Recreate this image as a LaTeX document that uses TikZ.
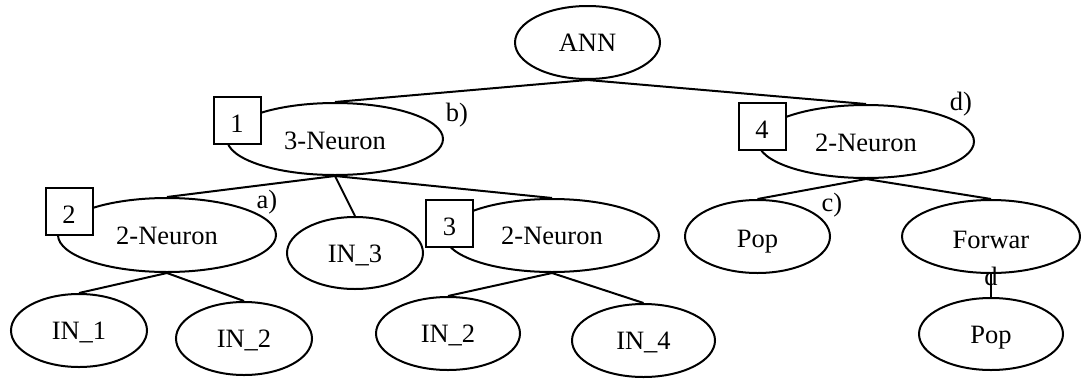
\documentclass[tikz,border=0pt]{standalone}
\usepackage{fontspec}
\setmainfont{Liberation Serif}
\usetikzlibrary{shapes.geometric}
\begin{document}
\begin{tikzpicture}[x=1pt,y=-1pt,
  every node/.style={font=\fontsize{26.5}{30}\selectfont},
  oval/.style={draw, ellipse, line width=2pt, inner sep=0pt, text height=17.5pt, text depth=0pt},
  numbox/.style={draw, fill=white, line width=2pt, minimum size=47pt, inner sep=0pt, text height=17.5pt, text depth=0pt},
  tag/.style={inner sep=0pt},
  edge/.style={line width=2pt}]
\useasboundingbox (0,0) rectangle (1081,378);
% ellipses
\node[oval, minimum width=145pt, minimum height=73pt] (ann) at (587.5,42.5) {ANN};
\node[oval, minimum width=216pt, minimum height=72pt] (n3) at (335,139) {\raisebox{-1.5pt}{3-Neuron}};
\node[oval, minimum width=216pt, minimum height=73pt] (n2r) at (866,141.5) {\raisebox{-1pt}{2-Neuron}};
\node[oval, minimum width=218pt, minimum height=74pt] (n2l) at (167,235) {\raisebox{-1pt}{2-Neuron}};
\node[oval, minimum width=136pt, minimum height=72pt] (in3) at (355,253) {\raisebox{-1pt}{IN\_3}};
\node[oval, minimum width=214pt, minimum height=73pt] (n2m) at (552,235.5) {2-Neuron};
\node[oval, minimum width=145pt, minimum height=73pt] (pop1) at (757.5,236.5) {\raisebox{-2pt}{Pop}};
\node[oval, minimum width=178pt, minimum height=73pt] (fwd) at (991,236.5) {\raisebox{-3pt}{Forwar}};
\node[oval, minimum width=144pt, minimum height=72pt] (pop2) at (991,334) {\raisebox{-1pt}{Pop}};
\node[oval, minimum width=136pt, minimum height=73pt] (in1) at (79,330.5) {IN\_1};
\node[oval, minimum width=136pt, minimum height=73pt] (in2a) at (244,338.5) {IN\_2};
\node[oval, minimum width=144pt, minimum height=73pt] (in2b) at (448,333.5) {IN\_2};
\node[oval, minimum width=143pt, minimum height=73pt] (in4) at (643.5,340.5) {IN\_4};
% edges
\draw[edge] (ann.south) -- (n3.north);
\draw[edge] (ann.south) -- (n2r.north);
\draw[edge] (n3.south) -- (n2l.north);
\draw[edge] (n3.south) -- (in3.north);
\draw[edge] (n3.south) -- (n2m.north);
\draw[edge] (n2l.south) -- (in1.north);
\draw[edge] (n2l.south) -- (in2a.north);
\draw[edge] (n2m.south) -- (in2b.north);
\draw[edge] (n2m.south) -- (in4.north);
\draw[edge] (n2r.south) -- (pop1.north);
\draw[edge] (n2r.south) -- (fwd.north);
\draw[edge] (fwd.south) -- (pop2.north);
% wrapped text tail
\node[tag] (fwdd) at (991,276) {d};
% number boxes
\node[numbox] (b1) at (237,120.5) {\raisebox{-3.5pt}{1}};
\node[numbox] (b2) at (69,211) {\raisebox{-3.5pt}{2}};
\node[numbox] (b3) at (449.5,223) {\raisebox{-3.5pt}{3}};
\node[numbox] (b4) at (762,126) {\raisebox{-3.5pt}{4}};
% labels
\node[tag] (la) at (267,202) {a)};
\node[tag] (lb) at (457,115) {b)};
\node[tag] (lc) at (832,205) {c)};
\node[tag] (ld) at (961,104) {d)};
\end{tikzpicture}
\end{document}
